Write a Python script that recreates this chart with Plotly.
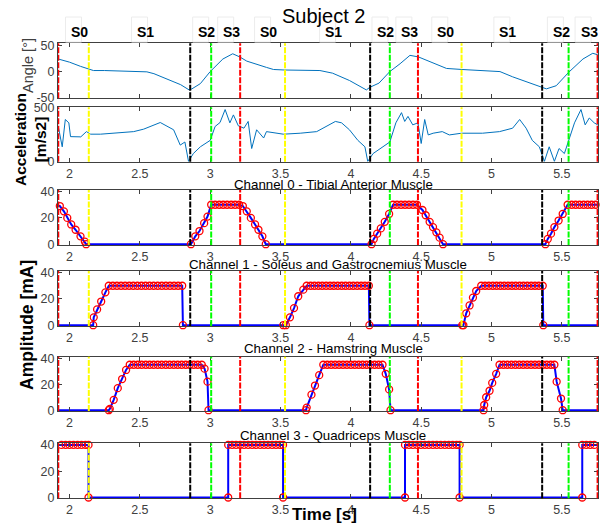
import plotly.graph_objects as go

# ---------------- data ----------------
angle_t = [1.92, 2.0, 2.078, 2.137, 2.17, 2.25, 2.35, 2.45, 2.55, 2.6, 2.69, 2.79, 2.85, 2.87, 2.93,
           3.0, 3.09, 3.16, 3.21, 3.26, 3.40, 3.45, 3.53, 3.64, 3.78, 3.87, 3.99, 4.11, 4.135, 4.2,
           4.277, 4.35, 4.42, 4.48, 4.56, 4.68, 4.79, 4.96, 5.06, 5.15, 5.29, 5.39, 5.46, 5.55,
           5.65, 5.72, 5.755]
angle_v = [24, 18, 10, 4, 2, 2, 1.3, 0.5, -0.5, -4, -14, -25, -35, -33, -23,
           0, 24, 34, 28, 20, 8, 4, 3, 2, 2, -3, -17, -35, -30, -22,
           0, 15, 31, 28, 19, 6, 4, 2, 0, -10, -24, -33, -27, -1,
           24, 35, 32]

acc_t = [1.92, 1.948, 1.97, 1.995, 2.007, 2.08, 2.12, 2.15, 2.22, 2.34, 2.456, 2.527, 2.645, 2.74,
         2.787, 2.82, 2.846, 2.88, 2.93, 3.0, 3.035, 3.07, 3.106, 3.14, 3.165, 3.2, 3.24, 3.27,
         3.295, 3.33, 3.38, 3.40, 3.52, 3.64, 3.757, 3.89, 3.934, 3.99, 4.05, 4.1, 4.12, 4.158,
         4.23, 4.277, 4.32, 4.36, 4.383, 4.406, 4.44, 4.477, 4.5, 4.525, 4.55, 4.585, 4.65, 4.70,
         4.787, 4.936, 5.057, 5.15, 5.2, 5.246, 5.29, 5.34, 5.376, 5.41, 5.447, 5.48, 5.518,
         5.55, 5.59, 5.636, 5.666, 5.695, 5.73, 5.755]
acc_v = [326, 136, 391, 360, 231, 229, 278, 254, 254, 263, 278, 301, 363, 295,
         152, 181, 0, 73, 136, 196, 326, 363, 484, 360, 434, 332, 310, 373,
         120, 295, 218, 278, 254, 263, 278, 373, 360, 295, 196, 136, 0, 73,
         136, 181, 360, 455, 373, 420, 341, 360, 167, 391, 247, 263, 278, 247,
         263, 263, 278, 310, 391, 310, 196, 136, 0, 136, 0, 120, 73,
         196, 360, 484, 341, 405, 360, 341]

# stimulation samples (time [s], amplitude [mA])
ch0_t = [1.931, 1.96, 1.984, 2.012, 2.043, 2.078, 2.109, 2.118,
         2.863, 2.894, 2.924, 2.957, 2.981, 3.007, 3.035, 3.064, 3.092, 3.12, 3.149, 3.177, 3.206,
         3.232, 3.26, 3.289, 3.319, 3.343, 3.371, 3.395,
         4.147, 4.163, 4.187, 4.213, 4.241, 4.272, 4.30, 4.328, 4.357, 4.385, 4.413, 4.442, 4.47,
         4.509, 4.532, 4.56, 4.584, 4.608, 4.631, 4.655,
         5.383, 5.40, 5.423, 5.447, 5.477, 5.506, 5.541, 5.57, 5.598, 5.626, 5.655, 5.683, 5.711, 5.74]
ch0_v = [29, 25, 20, 15, 11, 6, 2, 0,
         0, 6, 10, 16, 21, 30, 30, 30, 30, 30, 30, 30, 30,
         29, 25, 20, 15, 11, 6, 0,
         0, 4, 8, 12, 17, 23, 30, 30, 30, 30, 30, 30, 30,
         26, 22, 17, 13, 9, 5, 0,
         0, 4, 8, 13, 18, 23, 30, 30, 30, 30, 30, 30, 30, 30]

ch1_t = [2.168, 2.172, 2.196, 2.225, 2.255,
         2.279, 2.308, 2.337, 2.366, 2.395, 2.424, 2.453, 2.482, 2.511, 2.540, 2.569, 2.598,
         2.627, 2.656, 2.685, 2.714, 2.743, 2.772, 2.801, 2.806,
         3.52, 3.538, 3.567, 3.596, 3.626, 3.662,
         3.686, 3.714, 3.741, 3.769, 3.796, 3.824, 3.852, 3.879, 3.907, 3.935, 3.962, 3.990,
         4.017, 4.045, 4.073, 4.100, 4.128, 4.132,
         4.792, 4.80, 4.82, 4.844, 4.868, 4.891,
         4.927, 4.954, 4.981, 5.009, 5.036, 5.063, 5.09, 5.118, 5.145, 5.172, 5.2, 5.227,
         5.254, 5.282, 5.309, 5.336, 5.364, 5.368]
ch1_v = [0, 6, 12, 18, 25,
         30, 30, 30, 30, 30, 30, 30, 30, 30, 30, 30, 30,
         30, 30, 30, 30, 30, 30, 30, 0,
         0, 0, 6, 13, 22, 27,
         30, 30, 30, 30, 30, 30, 30, 30, 30, 30, 30, 30,
         30, 30, 30, 30, 30, 0,
         0, 0, 9, 15, 21, 26,
         30, 30, 30, 30, 30, 30, 30, 30, 30, 30, 30, 30,
         30, 30, 30, 30, 30, 0]

ch2_t = [2.279, 2.286, 2.314, 2.343, 2.374, 2.402,
         2.428, 2.456, 2.485, 2.513, 2.542, 2.570, 2.598, 2.627, 2.655, 2.684, 2.712, 2.741,
         2.769, 2.797, 2.826, 2.854, 2.883, 2.911, 2.94, 2.96, 2.981, 2.988,
         3.681, 3.686, 3.72, 3.745, 3.775,
         3.804, 3.832, 3.860, 3.888, 3.916, 3.944, 3.972, 4.0, 4.028, 4.056, 4.084, 4.112,
         4.14, 4.169, 4.197, 4.225, 4.248, 4.272, 4.282,
         4.943, 4.948, 4.962, 4.986, 5.005, 5.033,
         5.057, 5.085, 5.113, 5.141, 5.169, 5.197, 5.225, 5.253, 5.281, 5.309, 5.337, 5.365,
         5.393, 5.421, 5.447, 5.463, 5.494, 5.506]
ch2_v = [0, 1, 8, 17, 24, 31,
         35, 35, 35, 35, 35, 35, 35, 35, 35, 35, 35, 35,
         35, 35, 35, 35, 35, 35, 35, 32, 22, 0,
         0, 2, 12, 19, 27,
         35, 35, 35, 35, 35, 35, 35, 35, 35, 35, 35, 35,
         35, 35, 35, 35, 28, 16, 0,
         0, 4, 10, 15, 21, 28,
         35, 35, 35, 35, 35, 35, 35, 35, 35, 35, 35, 35,
         35, 35, 35, 22, 9, 0]

ch3_t = [1.915, 1.943, 1.972, 2.0, 2.028, 2.057, 2.085, 2.113, 2.135, 2.135,
         3.128, 3.128, 3.156, 3.184, 3.213, 3.241, 3.27, 3.298, 3.326, 3.355, 3.383, 3.411,
         3.44, 3.468, 3.496, 3.518, 3.518,
         4.385, 4.385, 4.413, 4.441, 4.47, 4.498, 4.526, 4.554, 4.583, 4.611, 4.639, 4.668,
         4.696, 4.724, 4.752, 4.773, 4.773,
         5.645, 5.645, 5.674, 5.702, 5.73]
ch3_v = [40, 40, 40, 40, 40, 40, 40, 40, 40, 0,
         0, 40, 40, 40, 40, 40, 40, 40, 40, 40, 40, 40,
         40, 40, 40, 40, 0,
         0, 40, 40, 40, 40, 40, 40, 40, 40, 40, 40, 40,
         40, 40, 40, 40, 0,
         0, 40, 40, 40, 40]

channel_titles = ["Channel 0 - Tibial Anterior Muscle",
                  "Channel 1 - Soleus and Gastrocnemius Muscle",
                  "Channel 2 - Hamstring Muscle",
                  "Channel 3 - Quadriceps Muscle"]

# gait phase boundaries
phase_red = [1.92, 3.213, 4.477, 5.754]
phase_yellow = [2.137, 3.532, 4.787]
phase_black = [2.858, 4.137, 5.36]
phase_green = [3.007, 4.277, 5.548]
phase_names = ["S0", "S1", "S2", "S3"]

x_ticks = [2, 2.5, 3, 3.5, 4, 4.5, 5, 5.5]

# ---------------- figure ----------------
W, H = 600, 527
XMIN, XMAX = 1.918, 5.757
FONT = "Liberation Sans, Arial, sans-serif"
AX = "#404040"

def py(px):
    return 1 - px / H

def pxx(px):
    return px / W

x_dom = [pxx(58), pxx(598)]
y_doms = [
    [py(98.3), py(43.3)],
    [py(161.7), py(107.3)],
    [py(245), py(190)],
    [py(326), py(271)],
    [py(411), py(356.7)],
    [py(498.3), py(443.3)],
]

fig = go.Figure()

fig.add_trace(go.Scatter(x=angle_t, y=angle_v, mode="lines", xaxis="x", yaxis="y",
                         line=dict(color="#0072BD", width=1), showlegend=False))
fig.add_trace(go.Scatter(x=acc_t, y=acc_v, mode="lines", xaxis="x2", yaxis="y2",
                         line=dict(color="#0072BD", width=1), showlegend=False))

channels = [(ch0_t, ch0_v), (ch1_t, ch1_v), (ch2_t, ch2_v), (ch3_t, ch3_v)]
for i, (ct, cv) in enumerate(channels):
    n = i + 3
    lt = [XMIN] + list(ct) + [XMAX]
    lv = [cv[0]] + list(cv) + [cv[-1]]
    fig.add_trace(go.Scatter(x=lt, y=lv, mode="lines", xaxis=f"x{n}", yaxis=f"y{n}",
                             line=dict(color="#0000FF", width=2), showlegend=False))
    fig.add_trace(go.Scatter(x=ct, y=cv, mode="markers", xaxis=f"x{n}", yaxis=f"y{n}",
                             marker=dict(symbol="circle-open", size=7, color="#FF0000",
                                         line=dict(width=1.3, color="#FF0000")),
                             cliponaxis=False, showlegend=False))

layout = dict(width=W, height=H, margin=dict(l=0, r=0, t=0, b=0, autoexpand=False),
              paper_bgcolor="white", plot_bgcolor="white",
              font=dict(family=FONT, size=12, color=AX), showlegend=False)

y_ranges = [[-51, 54], [-3, 505], [-0.6, 41.2], [-0.6, 41.2], [-0.6, 41.2], [-0.6, 41.2]]
y_tickvals = [[-50, 0, 50], [0, 500], [0, 20, 40], [0, 20, 40], [0, 20, 40], [0, 20, 40]]
y_ticktext = [["-50", "0", "50"], ["0", "500"], ["0", "20", "40"], ["0", "20", "40"],
              ["0", "20", "40"], ["0", "20", "40"]]

for i in range(6):
    n = i + 1
    sx = "" if n == 1 else str(n)
    layout["xaxis" + sx] = dict(domain=x_dom, anchor="y" + sx, range=[XMIN, XMAX],
                                tickvals=x_ticks, ticktext=[f"{v:g}" for v in x_ticks],
                                showticklabels=(n != 1), ticks="inside", ticklen=4,
                                tickcolor=AX, showline=True, linecolor=AX, linewidth=1,
                                mirror="ticks", showgrid=False, zeroline=False,
                                automargin=False,
                                tickfont=dict(size=12.5, color=AX, family=FONT))
    layout["yaxis" + sx] = dict(domain=y_doms[i], anchor="x" + sx, range=y_ranges[i],
                                tickvals=y_tickvals[i], ticktext=y_ticktext[i],
                                ticks="inside", ticklen=4, tickcolor=AX, showline=True,
                                linecolor=AX, linewidth=1, mirror="ticks", showgrid=False,
                                zeroline=False, automargin=False,
                                tickfont=dict(size=12.5, color=AX, family=FONT))

shapes = []
phase_sets = [(phase_red, "#FF0000"), (phase_yellow, "#FFFF00"),
              (phase_black, "#000000"), (phase_green, "#00FF00")]
for i in range(6):
    n = i + 1
    sx = "" if n == 1 else str(n)
    for times, col in phase_sets:
        for t in times:
            shapes.append(dict(type="line", xref="x" + sx, yref="y" + sx + " domain",
                               x0=t, x1=t, y0=0, y1=1,
                               line=dict(color=col, width=2, dash="6px,1.5px")))

def ann(text, x, y, size, color="#000000", xref="paper", angle=0, xshift=0):
    return dict(text=text, xref=xref, yref="paper", x=x, y=y, xanchor="center",
                yanchor="middle", textangle=angle, xshift=xshift, showarrow=False,
                font=dict(size=size, color=color, family=FONT))

bounds = sorted(phase_red + phase_yellow + phase_black + phase_green)
annotations = []
for k in range(len(bounds) - 1):
    mid = (bounds[k] + bounds[k + 1]) / 2
    shapes.append(dict(type="rect", xref="x", yref="paper", xsizemode="pixel", xanchor=mid,
                       x0=-8, x1=8, y0=py(42), y1=py(17),
                       line=dict(color="#ececec", width=1), fillcolor="rgba(0,0,0,0)"))
    annotations.append(ann("<b>" + phase_names[k % 4] + "</b>", mid, py(31.5), 14,
                           xref="x", xshift=6))

annotations.append(ann("Subject 2", pxx(323.5), py(16.5), 20))
title_x = [333, 328, 333, 333]
title_y = [184, 264.7, 348, 435.5]
for k, txt in enumerate(channel_titles):
    annotations.append(ann(txt, pxx(title_x[k]), py(title_y[k]), 13.3))
annotations.append(ann("<b>Time [s]</b>", pxx(324), py(514), 17))
annotations.append(ann("<b>Amplitude [mA]</b>", pxx(27), py(325), 17.5, angle=-90))
annotations.append(ann("<b>Acceleration</b><br><b>[m/s2]</b>", pxx(30), py(140), 15.5, angle=-90))
annotations.append(ann("Angle [°]", pxx(28), py(66), 14.5, color="#404040", angle=-90))

layout["shapes"] = shapes
layout["annotations"] = annotations
fig.update_layout(**layout)
fig.write_html("out.html", config={"displayModeBar": False},
               post_script="document.body.style.margin='0px';")
